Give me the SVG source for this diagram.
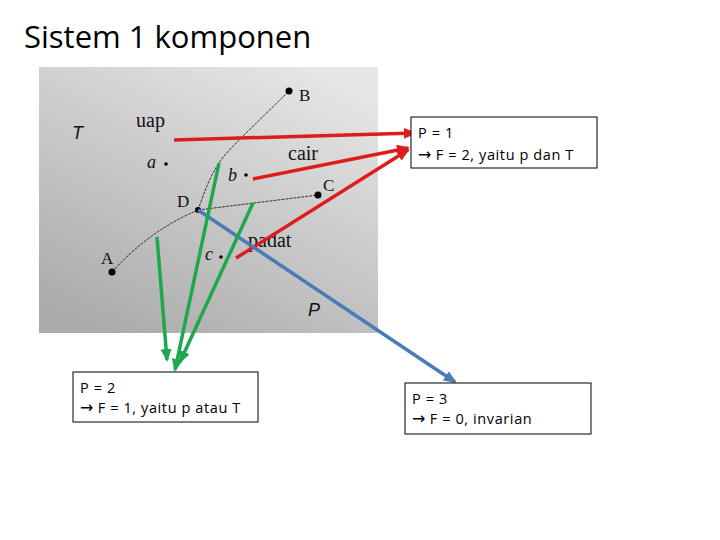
<svg xmlns="http://www.w3.org/2000/svg" width="720" height="540" viewBox="0 0 720 540">
<defs>
<linearGradient id="bg" x1="0.8" y1="0" x2="0.2" y2="1">
<stop offset="0" stop-color="#e6e6e6"/>
<stop offset="1" stop-color="#ababab"/>
</linearGradient>
<marker id="mr" markerUnits="userSpaceOnUse" markerWidth="13" markerHeight="11" refX="11" refY="5.5" orient="auto"><path d="M0,0 L13,5.5 L0,11 z" fill="#e01b1b"/></marker>
<marker id="mg" markerUnits="userSpaceOnUse" markerWidth="13" markerHeight="11" refX="11" refY="5.5" orient="auto"><path d="M0,0 L13,5.5 L0,11 z" fill="#1ea84e"/></marker>
<marker id="mb" markerUnits="userSpaceOnUse" markerWidth="13" markerHeight="11" refX="11" refY="5.5" orient="auto"><path d="M0,0 L13,5.5 L0,11 z" fill="#4a7ab8"/></marker>
</defs>
<style>
.title{font-family:"Open Sans","Noto Sans",sans-serif;font-size:31px;fill:#000}
.ser{font-family:"Liberation Serif",serif;font-size:20px;fill:#111}
.lbl{font-family:"Liberation Serif",serif;font-size:17px;fill:#111}
.it{font-family:"Liberation Serif",serif;font-style:italic;font-size:18px;fill:#111}
.ax{font-family:"Liberation Sans",sans-serif;font-style:italic;font-size:18px;fill:#111}
.box{fill:#fff;stroke:#000;stroke-width:1}
.bt{font-family:"Open Sans","Noto Sans",sans-serif;font-size:14.5px;fill:#000;letter-spacing:0.6px}
.arr{font-family:"DejaVu Sans",sans-serif;font-size:16px;letter-spacing:0}
.curve{fill:none;stroke:#222;stroke-width:0.9;stroke-dasharray:3,1}
.red{stroke:#e01b1b;stroke-width:3.5;fill:none;marker-end:url(#mr)}
.grn{stroke:#1ea84e;stroke-width:3.5;fill:none;marker-end:url(#mg)}
.blu{stroke:#4a7ab8;stroke-width:3.5;fill:none;marker-end:url(#mb)}
</style>
<rect width="720" height="540" fill="#fff"/>
<text class="title" x="24" y="48">Sistem 1 komponen</text>
<g id="phase-diagram">
<rect x="39" y="67" width="339" height="266" fill="url(#bg)"/>
<path class="curve" d="M198,210 C205,190 212,170 225,155 S265,115 289,91"/>
<path class="curve" d="M198,210 Q150,230 112,272"/>
<path class="curve" d="M198,210 L318,195"/>
<circle cx="289" cy="91" r="3.5" fill="#000"/>
<circle cx="318" cy="195" r="3.5" fill="#000"/>
<circle cx="112" cy="272" r="3.5" fill="#000"/>
<circle cx="198" cy="210" r="3" fill="#000"/>
<circle cx="166" cy="164" r="1.8" fill="#000"/>
<circle cx="246" cy="175" r="1.8" fill="#000"/>
<circle cx="221" cy="257" r="1.8" fill="#000"/>
<text class="lbl" x="299" y="101">B</text>
<text class="lbl" x="323" y="191">C</text>
<text class="lbl" x="177" y="207">D</text>
<text class="lbl" x="101" y="264">A</text>
<text class="it" x="147" y="168">a</text>
<text class="it" x="228" y="181">b</text>
<text class="it" x="205" y="260">c</text>
<text class="ser" x="136" y="127">uap</text>
<text class="ser" x="288" y="160">cair</text>
<text class="ser" x="248" y="247">padat</text>
<text class="ax" x="72" y="139">T</text>
<text class="ax" x="308" y="316">P</text>
</g>
<g id="connectors">
<path class="red" d="M174,140 L415,133"/>
<path class="red" d="M253,179 L408,148"/>
<path class="red" d="M236,258 L408,150"/>
<path class="blu" d="M198,210 L455,382"/>
<path class="grn" d="M157,237 L167,360"/>
<path class="grn" d="M219,163 L175,370"/>
<path class="grn" d="M253,203 L180,362"/>
</g>
<g id="box-p1">
<rect class="box" x="411" y="117" width="186" height="51"/>
<text class="bt" x="418" y="138">P = 1</text>
<text class="bt" x="418" y="160"><tspan class="arr">→</tspan> F = 2, yaitu p dan T</text>
</g>
<g id="box-p2">
<rect class="box" x="73" y="372" width="185" height="50"/>
<text class="bt" x="80" y="393">P = 2</text>
<text class="bt" x="80" y="413"><tspan class="arr">→</tspan> F = 1, yaitu p atau T</text>
</g>
<g id="box-p3">
<rect class="box" x="405" y="383" width="186" height="51"/>
<text class="bt" x="412" y="404">P = 3</text>
<text class="bt" x="412" y="424"><tspan class="arr">→</tspan> F = 0, invarian</text>
</g>
</svg>
